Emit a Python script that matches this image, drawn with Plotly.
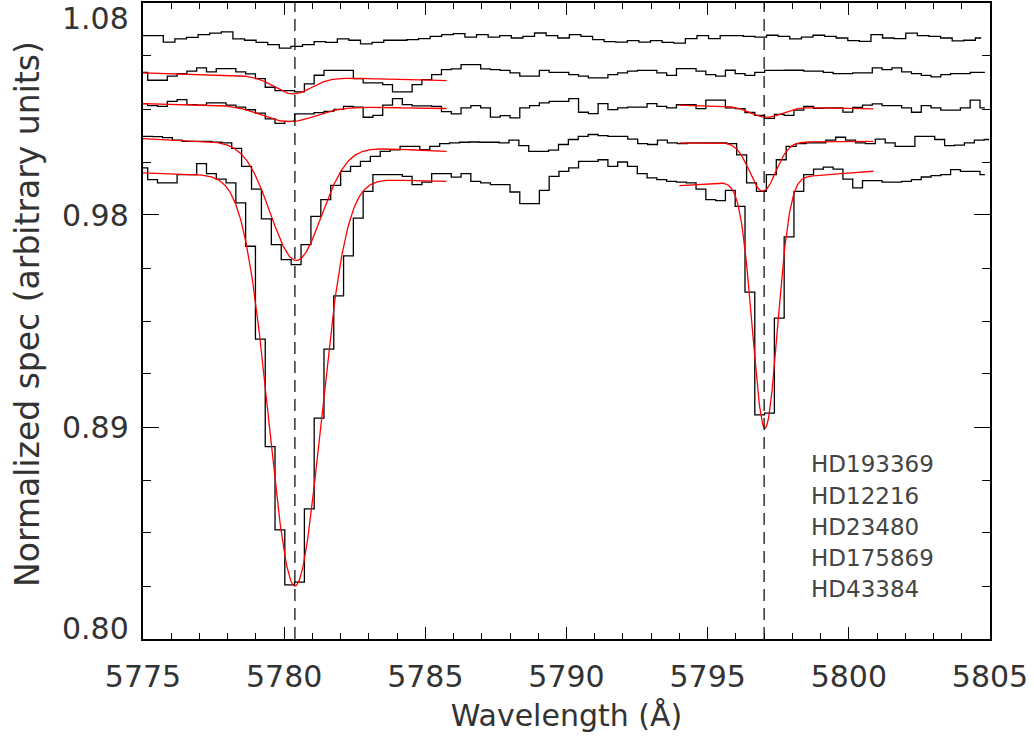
import numpy as np
import plotly.graph_objects as go

# ---------------------------------------------------------------------------
# Star names, top to bottom
stars = ["HD193369", "HD12216", "HD23480", "HD175869", "HD43384"]

# Wavelength grids: (centre of first pixel, dispersion) in Angstrom
grid_hd193369 = (5774.692, 0.4109)
grid_hd12216 = (5774.994, 0.3468)
grid_hd23480 = (5774.994, 0.3468)
grid_hd175869 = (5774.811, 0.35069)
grid_hd43384 = (5774.994, 0.3468)

# Normalized, vertically offset fluxes
flux_hd193369 = [
    1.0656, 1.0656, 1.0656, 1.0628, 1.0642, 1.0649, 1.0661, 1.0667, 1.0673, 1.0642,
    1.0636, 1.0627, 1.0617, 1.0601, 1.0609, 1.0617, 1.0630, 1.0627, 1.0642, 1.0636,
    1.0620, 1.0627, 1.0636, 1.0636, 1.0639, 1.0643, 1.0653, 1.0661, 1.0665, 1.0650,
    1.0661, 1.0650, 1.0656, 1.0646, 1.0653, 1.0668, 1.0656, 1.0646, 1.0661, 1.0653,
    1.0639, 1.0630, 1.0628, 1.0634, 1.0628, 1.0634, 1.0627, 1.0623, 1.0643, 1.0656,
    1.0643, 1.0656, 1.0656, 1.0653, 1.0650, 1.0658, 1.0653, 1.0642, 1.0650, 1.0658,
    1.0653, 1.0646, 1.0634, 1.0631, 1.0661, 1.0646, 1.0643, 1.0667, 1.0656, 1.0653,
    1.0646, 1.0633, 1.0636, 1.0646,
]
flux_hd12216 = [
    1.0495, 1.0460, 1.0460, 1.0478, 1.0489, 1.0500,
    1.0514, 1.0497, 1.0511, 1.0511, 1.0497, 1.0488, 1.0467, 1.0429, 1.0414, 1.0414,
    1.0409, 1.0444, 1.0482, 1.0503, 1.0503, 1.0503, 1.0467, 1.0448, 1.0448, 1.0441,
    1.0409, 1.0409, 1.0441, 1.0463, 1.0485, 1.0507, 1.0510, 1.0529, 1.0529, 1.0510,
    1.0507, 1.0503, 1.0492, 1.0478, 1.0478, 1.0503, 1.0495, 1.0495, 1.0485, 1.0478,
    1.0470, 1.0470, 1.0485, 1.0492, 1.0500, 1.0503, 1.0503, 1.0492, 1.0481, 1.0511,
    1.0511, 1.0500, 1.0485, 1.0478, 1.0504, 1.0489, 1.0481, 1.0495, 1.0503, 1.0503,
    1.0504, 1.0504, 1.0500, 1.0500, 1.0495, 1.0489, 1.0489, 1.0492, 1.0492, 1.0514,
    1.0507, 1.0514, 1.0497, 1.0489, 1.0481, 1.0475, 1.0485, 1.0489, 1.0489, 1.0495,
    1.0495,
]
flux_hd23480 = [
    1.0357, 1.0348, 1.0345, 1.0367, 1.0375, 1.0353,
    1.0350, 1.0360, 1.0360, 1.0350, 1.0342, 1.0330, 1.0315, 1.0290, 1.0270, 1.0279,
    1.0312, 1.0312, 1.0317, 1.0323, 1.0332, 1.0345, 1.0342, 1.0297, 1.0305, 1.0350,
    1.0379, 1.0353, 1.0347, 1.0347, 1.0345, 1.0322, 1.0312, 1.0338, 1.0348, 1.0338,
    1.0298, 1.0304, 1.0294, 1.0338, 1.0348, 1.0360, 1.0367, 1.0367, 1.0379, 1.0319,
    1.0313, 1.0357, 1.0331, 1.0338, 1.0342, 1.0342, 1.0357, 1.0345, 1.0338, 1.0352,
    1.0352, 1.0335, 1.0372, 1.0372, 1.0338, 1.0335, 1.0318, 1.0305, 1.0292, 1.0310,
    1.0305, 1.0328, 1.0345, 1.0336, 1.0338, 1.0338, 1.0320, 1.0340, 1.0350, 1.0356,
    1.0348, 1.0348, 1.0338, 1.0319, 1.0348, 1.0338, 1.0328, 1.0328, 1.0338, 1.0372,
    1.0338,
]
flux_hd175869 = [
    1.0213, 1.0213, 1.0212, 1.0207, 1.0196, 1.0191, 1.0191, 1.0191, 1.0187, 1.0184,
    1.0160, 1.0081,
    0.9981, 0.9850, 0.9736, 0.9670, 0.9648, 0.9736, 0.9861, 0.9934, 0.9997, 1.0059,
    1.0081, 1.0103, 1.0125, 1.0147, 1.0154, 1.0169, 1.0169, 1.0154, 1.0169, 1.0181,
    1.0184, 1.0187, 1.0188, 1.0187, 1.0187, 1.0184, 1.0196, 1.0172, 1.0147, 1.0147,
    1.0152, 1.0177, 1.0199, 1.0213, 1.0221, 1.0216, 1.0213, 1.0213, 1.0201, 1.0181,
    1.0177, 1.0196, 1.0184, 1.0181, 1.0184, 1.0184, 1.0184, 1.0184, 1.0181, 1.0131,
    1.0008, 0.9971, 1.0044, 1.0110, 1.0169, 1.0181, 1.0184, 1.0184, 1.0196, 1.0209,
    1.0196, 1.0184, 1.0181, 1.0201, 1.0184, 1.0169, 1.0169, 1.0213, 1.0213, 1.0199,
    1.0172, 1.0174, 1.0184, 1.0196, 1.0199,
]
flux_hd43384 = [
    1.0074, 1.0022, 1.0008, 1.0008, 1.0044, 1.0044,
    1.0093, 1.0049, 1.0025, 1.0008, 0.9920, 0.9729, 0.9320, 0.8847, 0.8480, 0.8238,
    0.8250, 0.8573, 0.8972, 0.9276, 0.9511, 0.9687, 0.9853, 0.9971, 1.0044, 1.0044,
    1.0044, 1.0037, 1.0000, 1.0011, 1.0049, 1.0049, 1.0033, 1.0049, 1.0015, 1.0008,
    1.0000, 1.0000, 0.9968, 0.9917, 0.9917, 0.9975, 1.0037, 1.0059, 1.0074, 1.0103,
    1.0103, 1.0110, 1.0081, 1.0100, 1.0081, 1.0049, 1.0030, 1.0022, 1.0015, 1.0011,
    1.0008, 0.9981, 0.9934, 0.9930, 0.9975, 0.9905, 0.9527, 0.8987, 0.8994, 0.9413,
    0.9770, 0.9971, 1.0044, 1.0069, 1.0077, 1.0069, 1.0025, 0.9986, 1.0018, 1.0018,
    1.0011, 1.0011, 1.0015, 1.0022, 1.0034, 1.0040, 1.0044, 1.0066, 1.0059, 1.0059,
    1.0044,
]

# Gaussian fits: (fit start, fit end, continuum at start, continuum slope,
#                 line centre, depth, sigma) -- one entry per fitted spectrum
fits_5780 = [
    (5775.0, 5785.75, 1.0492, -0.00031, 5780.30, 0.0076, 0.66),
    (5775.0, 5785.75, 1.0357, -0.00020, 5780.15, 0.0069, 0.95),
    (5775.0, 5785.75, 1.0203, -0.00052, 5780.42, 0.0508, 0.90),
    (5775.0, 5785.75, 1.0052, -0.00035, 5780.38, 0.1800, 0.91),
]
fits_5797 = [
    (5794.0, 5800.87, 1.0350, -0.00023, 5797.08, 0.0046, 0.55),
    (5794.0, 5800.87, 1.0184, 0.00010, 5796.95, 0.0216, 0.46),
    (5794.0, 5800.87, 0.9996, 0.00092, 5797.03, 0.1096, 0.44),
]

# Rest wavelengths of the two diffuse bands
dib_centres = [5780.38, 5797.00]

# Axis ticks
x_ticks = [5775, 5780, 5785, 5790, 5795, 5800, 5805]
y_ticks = [0.80, 0.89333, 0.98667, 1.08]
y_ticktext = ["0.80", "0.89", "0.98", "1.08"]
# label positions (paper fraction, anchor); the end labels sit inside the frame
y_label_pos = [(0.0165, "middle"), (0.3325, "middle"), (0.6659, "middle"), (1.0047, "top")]
y_minor = [0.82333, 0.84667, 0.87, 0.91667, 0.94, 0.96333, 1.01, 1.03333, 1.05667]

# ---------------------------------------------------------------------------
spectra = [
    (grid_hd193369, flux_hd193369),
    (grid_hd12216, flux_hd12216),
    (grid_hd23480, flux_hd23480),
    (grid_hd175869, flux_hd175869),
    (grid_hd43384, flux_hd43384),
]

FONT = "DejaVu Sans"
TXT = "#333333"

fig = go.Figure()

for name, ((w0, dw), flux) in zip(stars, spectra):
    wave = w0 + dw * np.arange(len(flux))
    fig.add_trace(go.Scatter(
        x=wave, y=flux, mode="lines", name=name,
        line=dict(color="black", width=1.3, shape="hvh"),
        showlegend=False, hoverinfo="skip",
    ))

for (a, b, c0, slope, mu, depth, sig) in fits_5780 + fits_5797:
    wl = np.linspace(a, b, 400)
    model = c0 + slope * (wl - a) - depth * np.exp(-0.5 * ((wl - mu) / sig) ** 2)
    fig.add_trace(go.Scatter(
        x=wl, y=model, mode="lines",
        line=dict(color="#ff0000", width=1.3),
        showlegend=False, hoverinfo="skip",
    ))

for wc in dib_centres:
    fig.add_shape(type="line", xref="x", yref="paper", x0=wc, x1=wc, y0=0, y1=1,
                  line=dict(color="black", width=1.2, dash="12px,7px"))

# y tick labels
for txt, (yy, anchor) in zip(y_ticktext, y_label_pos):
    fig.add_annotation(text=txt, xref="paper", yref="paper", x=-0.0153, y=yy,
                       xanchor="right", yanchor=anchor, showarrow=False,
                       borderpad=0,
                       font=dict(family=FONT, size=30, color=TXT))

# y axis title
fig.add_annotation(text="Normalized spec (arbitrary units)", xref="paper", yref="paper",
                   x=-0.137, y=0.511, textangle=-90, xanchor="center", yanchor="middle",
                   showarrow=False, font=dict(family=FONT, size=33, color=TXT))

# star labels in the lower right corner
label_y = [0.2752, 0.2252, 0.1764, 0.1274, 0.0786]
for name, yy in zip(stars, label_y):
    fig.add_annotation(text=name, xref="paper", yref="paper", x=0.7862, y=yy,
                       xanchor="left", yanchor="middle", showarrow=False,
                       font=dict(family=FONT, size=23, color="#444444"))

fig.update_xaxes(
    range=[5775, 5805], tickmode="array", tickvals=x_ticks,
    ticks="inside", ticklen=12, tickwidth=1.3, tickcolor="black",
    showline=True, linecolor="black", linewidth=1.6, mirror="ticks",
    showgrid=False, zeroline=False,
    minor=dict(ticks="inside", ticklen=6, tickwidth=1.2, tickcolor="black",
               tickmode="linear", tick0=5775, dtick=1, showgrid=False),
    tickfont=dict(family=FONT, size=30, color=TXT),
    ticklabelstandoff=10,
    title=dict(text="Wavelength (Å)", font=dict(family=FONT, size=30, color=TXT),
               standoff=12),
)
fig.update_yaxes(
    range=[0.80, 1.08], tickmode="array", tickvals=y_ticks,
    ticks="inside", ticklen=16, tickwidth=1.3, tickcolor="black",
    showline=True, linecolor="black", linewidth=1.6, mirror="ticks",
    showgrid=False, zeroline=False, showticklabels=False,
    minor=dict(ticks="inside", ticklen=8, tickwidth=1.2, tickcolor="black",
               tickmode="array", tickvals=y_minor, showgrid=False),
)

fig.update_layout(
    width=1034, height=738,
    margin=dict(l=143, r=44, t=3, b=99, autoexpand=False),
    paper_bgcolor="white", plot_bgcolor="white",
    showlegend=False,
)

fig.write_html("out.html")
